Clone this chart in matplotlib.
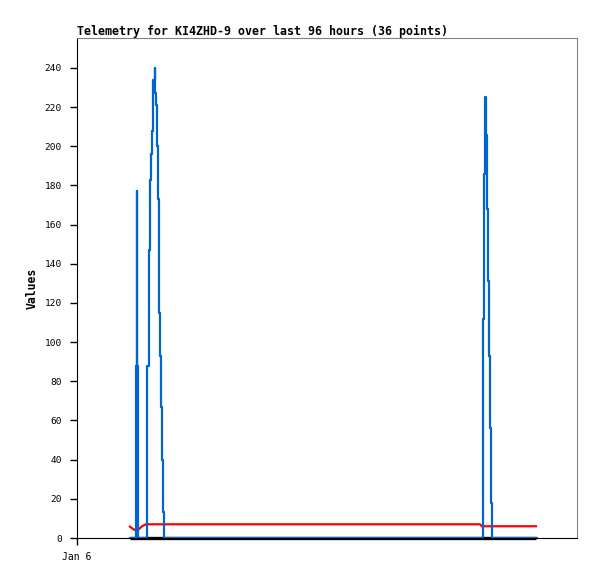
import matplotlib.pyplot as plt

# hours since Jan 6 00:00
blue_t = [2.54, 2.81, 2.86, 2.90, 2.95, 3.34, 3.38, 3.44, 3.50, 3.55, 3.60, 3.63,
          3.66, 3.72, 3.76, 3.79, 3.83, 3.87, 3.92, 3.95, 3.98, 4.03, 4.09, 4.14,
          4.17, 19.47, 19.50, 19.55, 19.59, 19.63, 19.66, 19.71, 19.78, 19.82,
          19.87, 19.91, 22.08]
blue_v = [0, 88, 177, 88, 0, 30, 88, 147, 183, 196, 208, 221,
          234, 240, 227, 221, 200, 173, 147, 115, 93, 67, 40, 13.5,
          0, 38, 112, 186, 225, 206, 168, 131, 93, 56,
          18, 0, 0]

red_t = [2.54, 2.69, 2.78, 2.93, 3.12, 3.31, 19.34, 19.44, 22.03]
red_v = [5.8, 4.6, 4.1, 4.1, 6.0, 7.0, 7.0, 6.0, 6.0]

black_t = [2.54, 22.03]
black_v = [0, 0]

yticks = list(range(0, 241, 20))
xtick_labels = ['Jan 6']

plt.rcParams['font.family'] = ['DejaVu Sans Mono']

fig = plt.figure(figsize=(5.97, 5.79), dpi=100)
ax = fig.add_axes([77/597, 1-538/579, 500/597, 500/579])

ax.plot(black_t, black_v, color='black', lw=2.4, zorder=3, clip_on=False,
        solid_capstyle='butt')
ax.plot(red_t, red_v, color='#ff0000', lw=1.6, zorder=3)
ax.plot(blue_t, blue_v, color='#0066cc', lw=1.6, drawstyle='steps-post', zorder=4)

ax.set_xlim(0, 24)
ax.set_ylim(0, 255.3)
ax.set_yticks(yticks)
ax.set_xticks([0])
ax.set_xticklabels(xtick_labels)
ax.tick_params(axis='both', direction='out', width=1, colors='black')
ax.tick_params(axis='y', length=5, pad=6, labelsize=6.8)
ax.tick_params(axis='x', length=5, pad=5, labelsize=7)

for s in ['top', 'right']:
    ax.spines[s].set_color('#808080')
for s in ['left', 'bottom']:
    ax.spines[s].set_color('black')

fig.text(32.5/597, 1-288/579, 'Values', rotation=90, ha='center', va='center',
         fontsize=8.3, fontweight='bold')
fig.text(77/597, 1-31/579, 'Telemetry for KI4ZHD-9 over last 96 hours (36 points)',
         ha='left', va='center', fontsize=8.35, fontweight='bold')

fig.savefig('out.png', dpi=100)
